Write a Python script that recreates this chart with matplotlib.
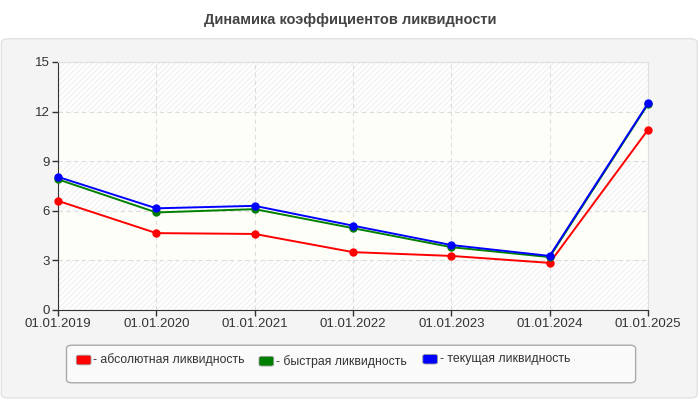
import matplotlib.pyplot as plt
from matplotlib.patches import FancyBboxPatch

dates = ["01.01.2019", "01.01.2020", "01.01.2021", "01.01.2022",
         "01.01.2023", "01.01.2024", "01.01.2025"]
absolute = [6.6, 4.65, 4.6, 3.5, 3.27, 2.85, 10.9]
quick = [7.9, 5.9, 6.1, 4.95, 3.8, 3.2, 12.45]
current = [8.05, 6.15, 6.3, 5.1, 3.93, 3.27, 12.5]

labels = ["- абсолютная ликвидность", "- быстрая ликвидность", "- текущая ликвидность"]
colors = ["#ff0000", "#008000", "#0000ff"]

plt.rcParams["font.family"] = ["Liberation Sans", "DejaVu Sans"]

fig = plt.figure(figsize=(7, 4), dpi=100)
fig.patch.set_facecolor("white")

# grey panel behind the chart
panel = FancyBboxPatch((0.002, 0.005), 0.994, 0.898, boxstyle="round,pad=0,rounding_size=0.01",
                       transform=fig.transFigure, facecolor="#f4f4f4", edgecolor="#e2e2e2",
                       linewidth=1, zorder=-5)
fig.patches.append(panel)

fig.text(0.5, 0.95, "Динамика коэффициентов ликвидности", ha="center", va="center",
         fontsize=10.5, fontweight="bold", color="#444444")

ax = fig.add_axes([0.0829, 0.225, 0.8428, 0.62])
ax.set_zorder(2)
ax.set_facecolor("white")
x = list(range(len(dates)))

# alternating background bands
for lo in range(0, 15, 3):
    if lo in (3, 9):
        ax.axhspan(lo, lo + 3, facecolor="#fefef9", edgecolor="none", zorder=0)
    else:
        ax.axhspan(lo, lo + 3, facecolor="white", hatch="//////", edgecolor="#f2f2f2",
                   linewidth=0, zorder=0)

for vals, c in zip([absolute, quick, current], colors):
    ax.plot(x, vals, color=c, linewidth=1.4, marker="o", markersize=5, zorder=3, clip_on=False)

ax.set_xlim(0, len(dates) - 1)
ax.set_ylim(0, 15)
ax.set_yticks([0, 3, 6, 9, 12, 15])
ax.set_xticks(x)
ax.set_xticklabels(dates)
ax.tick_params(labelsize=9.5, colors="#333333", length=4, width=1, direction="out", pad=2)
ax.grid(True, color="#dddddd", linestyle=(0, (4, 3)), linewidth=0.8)
ax.set_axisbelow(True)
for s in ("left", "bottom"):
    ax.spines[s].set_color("#333333")
for s in ("top", "right"):
    ax.spines[s].set_color("#e0e0e0")

# legend
lbox = FancyBboxPatch((0.095, 0.043), 0.813, 0.094, boxstyle="round,pad=0,rounding_size=0.008",
                      transform=fig.transFigure, facecolor="#fafafa", edgecolor="#aaaaaa",
                      linewidth=1, zorder=1)
fig.patches.append(lbox)
for xpos, ypos, lab, c in zip([0.109, 0.37, 0.604], [0.1, 0.097, 0.102], labels, colors):
    sw = FancyBboxPatch((xpos, ypos - 0.012), 0.021, 0.024, boxstyle="round,pad=0,rounding_size=0.004",
                        transform=fig.transFigure, facecolor=c, edgecolor="#999999",
                        linewidth=0.6, zorder=2)
    fig.patches.append(sw)
    fig.text(xpos + 0.024, ypos, lab, ha="left", va="center", fontsize=8.8, color="#333333")

fig.savefig("out.png", dpi=100)
